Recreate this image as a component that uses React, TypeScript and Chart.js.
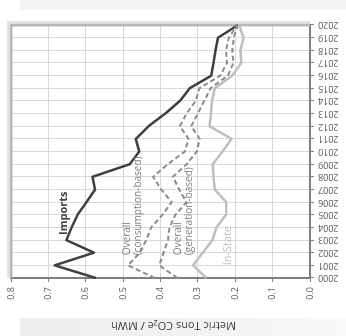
import React, { useEffect, useRef } from 'react';
import { Chart, registerables } from 'chart.js';

Chart.register(...registerables);

const years = ['2000', '2001', '2002', '2003', '2004', '2005', '2006', '2007', '2008', '2009', '2010',
  '2011', '2012', '2013', '2014', '2015', '2016', '2017', '2018', '2019', '2020'];

const importsSeries = [0.573, 0.683, 0.578, 0.652, 0.638, 0.622, 0.598, 0.575, 0.582, 0.482, 0.457,
  0.466, 0.432, 0.387, 0.348, 0.322, 0.264, 0.258, 0.253, 0.246, 0.193];

const consumptionSeries = [0.415, 0.487, 0.455, 0.438, 0.425, 0.395, 0.370, 0.398, 0.420, 0.380, 0.335,
  0.325, 0.348, 0.330, 0.306, 0.296, 0.240, 0.222, 0.225, 0.217, 0.195];

const generationSeries = [0.355, 0.403, 0.392, 0.380, 0.376, 0.360, 0.331, 0.350, 0.367, 0.330, 0.303,
  0.295, 0.318, 0.300, 0.283, 0.266, 0.220, 0.205, 0.208, 0.204, 0.193];

const inStateSeries = [0.277, 0.313, 0.287, 0.261, 0.250, 0.225, 0.224, 0.255, 0.258, 0.260, 0.234,
  0.210, 0.269, 0.265, 0.262, 0.255, 0.208, 0.184, 0.186, 0.178, 0.190];

const yTicks = [0, 0.1, 0.2, 0.3, 0.4, 0.5, 0.6, 0.7, 0.8];

const axisTitle = 'Metric Tons CO₂e / MWh';

// in-chart series labels: anchored at (category index, value)
const seriesNotes = [
  { lines: ['Imports'], idx: 3.4, val: 0.658, color: '#404040', bold: true, size: 11 },
  { lines: ['Overall', '(consumption-based)'], idx: 1.8, val: 0.489, color: '#7f7f7f', bold: false, size: 10 },
  { lines: ['Overall', '(generation-based)'], idx: 1.8, val: 0.354, color: '#7f7f7f', bold: false, size: 10 },
  { lines: ['In-State'], idx: 1.0, val: 0.22, color: '#bfbfbf', bold: false, size: 11 },
];

const W = 336;
const H = 346;
const FONT = "'Open Sans', 'Liberation Sans', sans-serif";

export default function App() {
  const ref = useRef<HTMLCanvasElement>(null);

  useEffect(() => {
    if (!ref.current) return;

    const framePlugin = {
      id: 'frame',
      beforeDatasetsDraw(chart: any) {
        const { ctx, chartArea } = chart;
        const { top, right, left, bottom } = chartArea;
        ctx.save();
        ctx.strokeStyle = '#e2e2e2';
        ctx.lineWidth = 2;
        ctx.beginPath();
        ctx.moveTo(left, top - 3);
        ctx.lineTo(right + 3, top - 3);
        ctx.lineTo(right + 3, bottom);
        ctx.stroke();
        ctx.strokeStyle = '#b8b8b8';
        ctx.lineWidth = 3;
        ctx.beginPath();
        ctx.moveTo(left, top);
        ctx.lineTo(right, top);
        ctx.lineTo(right, bottom);
        ctx.stroke();
        ctx.restore();
      },
    };

    const notesPlugin = {
      id: 'notes',
      afterDatasetsDraw(chart: any) {
        const { ctx, chartArea } = chart;
        const xs = chart.scales.x;
        const ys = chart.scales.y;
        ctx.save();
        ctx.textAlign = 'left';
        ctx.textBaseline = 'middle';
        seriesNotes.forEach((n) => {
          const x = xs.getPixelForValue(n.idx);
          const y0 = ys.getPixelForValue(n.val);
          ctx.fillStyle = n.color;
          ctx.font = `${n.bold ? 'bold ' : ''}${n.size}px ${FONT}`;
          n.lines.forEach((t, i) => {
            ctx.fillText(t, x, y0 + i * (n.size + 1));
          });
        });
        // y-axis title
        ctx.translate(ys.left - 14 + 11, (chartArea.top + chartArea.bottom) / 2 + 13);
        ctx.rotate(-Math.PI / 2);
        ctx.textAlign = 'center';
        ctx.fillStyle = '#404040';
        ctx.font = `11px ${FONT}`;
        ctx.fillText(axisTitle, 0, 0);
        ctx.restore();
      },
    };

    const chart = new Chart(ref.current, {
      type: 'line',
      data: {
        labels: years,
        datasets: [
          { label: 'In-State', data: inStateSeries, borderColor: '#bfbfbf', borderWidth: 2.5 },
          { label: 'Overall (generation-based)', data: generationSeries, borderColor: '#8c8c8c', borderWidth: 2, borderDash: [5, 3] },
          { label: 'Overall (consumption-based)', data: consumptionSeries, borderColor: '#8c8c8c', borderWidth: 2, borderDash: [5, 3] },
          { label: 'Imports', data: importsSeries, borderColor: '#404040', borderWidth: 2.5 },
        ],
      },
      options: {
        animation: false,
        responsive: false,
        devicePixelRatio: 1,
        layout: { padding: { left: 14, top: 11, right: 25, bottom: 0 } },
        plugins: { legend: { display: false }, tooltip: { enabled: false } },
        elements: { point: { radius: 0 }, line: { tension: 0, borderJoinStyle: 'round' } },
        scales: {
          x: {
            type: 'category',
            offset: false,
            grid: { color: '#d9d9d9', lineWidth: 1, tickColor: '#7f7f7f', tickLength: 4 },
            border: { color: '#7f7f7f', width: 2 },
            ticks: {
              autoSkip: false,
              maxRotation: 90,
              minRotation: 90,
              padding: 4,
              color: '#595959',
              font: { family: FONT, size: 9 },
            },
            afterFit: (s: any) => { s.height = 36; },
          },
          y: {
            min: 0,
            max: 0.8,
            afterBuildTicks: (s: any) => { s.ticks = yTicks.map((v) => ({ value: v })); },
            ticks: {
              padding: 5,
              color: '#595959',
              font: { family: FONT, size: 9 },
              callback: (v: any) => Number(v).toFixed(1),
            },
            grid: { color: '#d9d9d9', lineWidth: 1, tickColor: '#7f7f7f', tickLength: 4 },
            border: { color: '#7f7f7f', width: 2 },
            title: { display: false },
            afterFit: (s: any) => { s.width = 44; },
          },
        },
      },
      plugins: [framePlugin, notesPlugin],
    });

    return () => chart.destroy();
  }, []);

  return (
    <div style={{ position: 'fixed', left: 0, top: 0, width: 346, height: 336, background: '#ffffff', overflow: 'hidden' }}>
      <div style={{ position: 'absolute', left: 20, top: 0, width: 326, height: 10, background: '#f5f5f5' }} />
      <div style={{ position: 'absolute', left: 20, top: 318, width: 326, height: 18, background: 'linear-gradient(to right, #ececec, #f8f8f8)' }} />
      <div
        style={{
          position: 'absolute',
          left: 0,
          top: 0,
          width: W,
          height: H,
          transformOrigin: '0 0',
          transform: `translate(0px, ${W}px) rotate(-90deg)`,
        }}
      >
        <canvas ref={ref} width={W} height={H} style={{ width: W, height: H, display: 'block' }} />
      </div>
    </div>
  );
}
